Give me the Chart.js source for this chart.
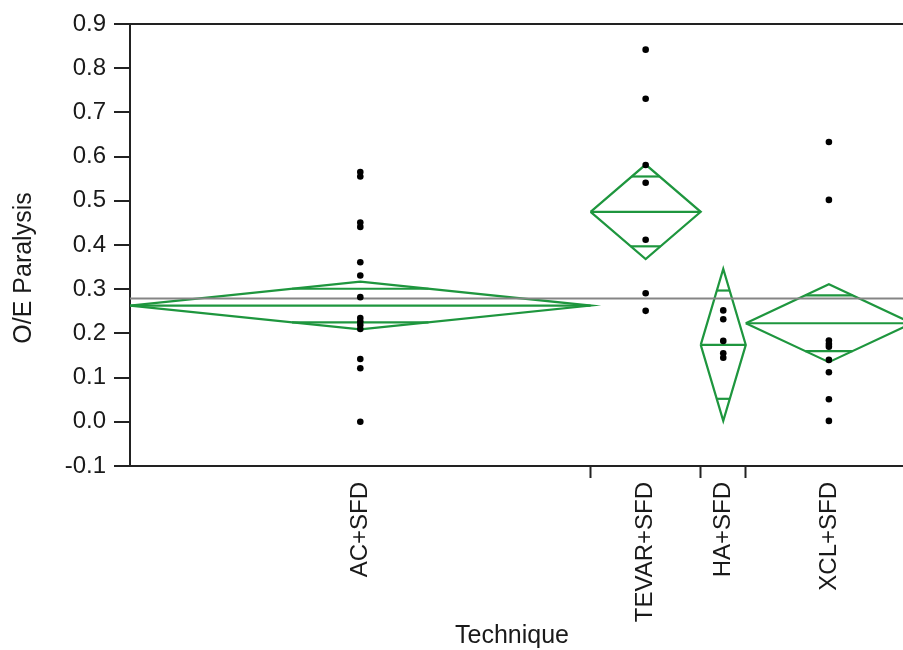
<!DOCTYPE html>
<html><head><meta charset="utf-8">
<script src="https://cdn.jsdelivr.net/npm/chart.js@4/dist/chart.umd.min.js"></script>
<style>html,body{margin:0;padding:0;overflow:hidden;background:#fff}</style>
</head><body>
<canvas id="c" width="930" height="650" style="display:block"></canvas>
<script>
// ---- data ----
const categories = ['AC+SFD', 'TEVAR+SFD', 'HA+SFD', 'XCL+SFD'];
const groupSpan = [46, 11, 4.5, 16.6];          // relative group widths (sample-size weighted)
const groupMeans = [0.263, 0.475, 0.174, 0.223];
const ciLower = [0.209, 0.368, 0.002, 0.135];
const ciUpper = [0.317, 0.582, 0.346, 0.311];
const overlapLower = [0.225, 0.397, 0.052, 0.160];
const overlapUpper = [0.301, 0.555, 0.297, 0.286];
const grandMean = 0.279;
const acValues = [0.565, 0.555, 0.451, 0.441, 0.361, 0.331, 0.282, 0.235, 0.227, 0.219, 0.210, 0.142, 0.121, 0.0];
const tevarValues = [0.842, 0.731, 0.581, 0.541, 0.412, 0.291, 0.251];
const haValues = [0.252, 0.232, 0.183, 0.155, 0.145];
const xclValues = [0.633, 0.502, 0.184, 0.176, 0.170, 0.140, 0.112, 0.051, 0.002];
const yTicks = [-0.1, 0.0, 0.1, 0.2, 0.3, 0.4, 0.5, 0.6, 0.7, 0.8, 0.9];
const xTitle = 'Technique';
const yTitle = 'O/E Paralysis';

// ---- derived geometry ----
const groupValues = [acValues, tevarValues, haValues, xclValues];
const starts = [];
let acc = 0;
groupSpan.forEach(w => { starts.push(acc); acc += w; });
const total = acc;
const centers = starts.map((s, i) => s + groupSpan[i] / 2);
const innerBounds = starts.slice(1);

const GREEN = '#1e963e';
const FONT = "'Liberation Sans', Arial, Helvetica, sans-serif";
const datasets = [];

function lineDs(points, color, width) {
  return { type: 'scatter', data: points, showLine: true, borderColor: color, borderWidth: width,
           pointRadius: 0, fill: false, tension: 0, order: 2 };
}

// grand mean line
datasets.push(lineDs([{x: 0, y: grandMean}, {x: total, y: grandMean}], '#858585', 2));

// diamonds
categories.forEach((c, i) => {
  const l = starts[i], r = starts[i] + groupSpan[i], m = centers[i], half = groupSpan[i] / 2;
  const mu = groupMeans[i], lo = ciLower[i], hi = ciUpper[i];
  datasets.push(lineDs([{x: l, y: mu}, {x: m, y: hi}, {x: r, y: mu}, {x: m, y: lo}, {x: l, y: mu}], GREEN, 2.2));
  datasets.push(lineDs([{x: l, y: mu}, {x: r, y: mu}], GREEN, 2.2));
  const offU = half * (1 - (overlapUpper[i] - mu) / (hi - mu));
  const offL = half * (1 - (mu - overlapLower[i]) / (mu - lo));
  datasets.push(lineDs([{x: m - offU, y: overlapUpper[i]}, {x: m + offU, y: overlapUpper[i]}], GREEN, 2.2));
  datasets.push(lineDs([{x: m - offL, y: overlapLower[i]}, {x: m + offL, y: overlapLower[i]}], GREEN, 2.2));
});

// points
groupValues.forEach((vals, i) => {
  datasets.push({ type: 'scatter', data: vals.map(v => ({x: centers[i], y: v})),
    pointRadius: 3.3, pointBackgroundColor: '#000', pointBorderWidth: 0, showLine: false, order: 1 });
});

const titlePlugin = {
  id: 'titles',
  afterDraw(chart) {
    const ctx = chart.ctx;
    ctx.save();
    ctx.fillStyle = '#1a1a1a';
    ctx.font = '25px ' + FONT;
    ctx.textAlign = 'center';
    ctx.textBaseline = 'middle';
    ctx.fillText(xTitle, 512, 636);
    ctx.translate(24, 268);
    ctx.rotate(-Math.PI / 2);
    ctx.fillText(yTitle, 0, 0);
    ctx.restore();
  }
};

new Chart(document.getElementById('c'), {
  type: 'scatter',
  data: { datasets },
  options: {
    responsive: false,
    animation: false,
    events: [],
    layout: { padding: { left: 0, top: 24, right: 18, bottom: 0 } },
    plugins: { legend: { display: false }, tooltip: { enabled: false } },
    scales: {
      x: {
        type: 'linear', position: 'bottom', min: 0, max: total,
        afterBuildTicks: s => { s.ticks = innerBounds.concat(centers).sort((a, b) => a - b).map(v => ({value: v})); },
        afterFit: s => { s.height = 184; },
        ticks: {
          autoSkip: false, minRotation: 90, maxRotation: 90, padding: 4,
          color: '#1a1a1a', font: { family: FONT, size: 24 },
          callback: v => { const k = centers.findIndex(c => Math.abs(c - v) < 1e-6); return k >= 0 ? categories[k] : ''; }
        },
        grid: {
          display: true, drawOnChartArea: false, drawTicks: true, tickLength: 12, tickWidth: 2,
          tickColor: ctx => (ctx.tick && innerBounds.some(b => Math.abs(b - ctx.tick.value) < 1e-6)) ? '#222' : 'rgba(0,0,0,0)'
        },
        border: { display: true, color: '#222', width: 2 }
      },
      y: {
        type: 'linear', min: -0.1, max: 0.9,
        afterBuildTicks: s => { s.ticks = yTicks.map(v => ({value: v})); },
        afterFit: s => { s.width = 130; },
        ticks: { padding: 8, color: '#1a1a1a', font: { family: FONT, size: 24 }, callback: v => Number(v).toFixed(1) },
        grid: {
          display: true, drawOnChartArea: true, drawTicks: true, tickLength: 16, tickWidth: 2, tickColor: '#222',
          lineWidth: 2,
          color: ctx => (ctx.tick && Math.abs(ctx.tick.value - 0.9) < 1e-6) ? '#222' : 'rgba(0,0,0,0)'
        },
        border: { display: true, color: '#222', width: 2 }
      }
    }
  },
  plugins: [titlePlugin]
});
</script>
</body></html>
